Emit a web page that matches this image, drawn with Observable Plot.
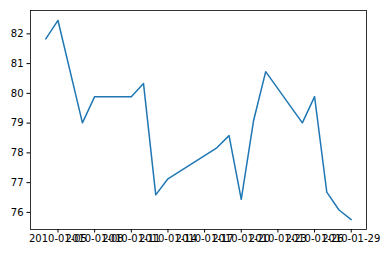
<!DOCTYPE html>
<html><head><meta charset="utf-8">
<script src="https://cdn.jsdelivr.net/npm/d3@7"></script>
<script src="https://cdn.jsdelivr.net/npm/@observablehq/plot@0.6"></script>
<style>html,body{margin:0;padding:0;background:#fff} svg{display:block}</style>
</head><body><div id="chart"></div>
<script>
const dates = ["2010-01-04","2010-01-05","2010-01-07","2010-01-08","2010-01-11","2010-01-12","2010-01-13","2010-01-14","2010-01-18","2010-01-19","2010-01-20","2010-01-21","2010-01-22","2010-01-25","2010-01-26","2010-01-27","2010-01-28","2010-01-29"];
const values = [81.83,82.45,79.01,79.89,79.89,80.33,76.59,77.13,78.17,78.58,76.44,79.07,80.73,79.01,79.89,76.68,76.08,75.76];
const xTickLabels = ["2010-01-05","2010-01-08","2010-01-11","2010-01-14","2010-01-17","2010-01-20","2010-01-23","2010-01-26","2010-01-29"];
const yTicks = [76,77,78,79,80,81,82];

const parse = s => new Date(s + "T00:00:00Z");
const data = dates.map((d, i) => ({date: parse(d), value: values[i]}));

// matplotlib-like 5% margins
const [dMin, dMax] = d3.extent(data, d => +d.date);
const dPad = (dMax - dMin) * 0.05;
const [vMin, vMax] = d3.extent(values);
const vPad = (vMax - vMin) * 0.05;

const chart = Plot.plot({
  width: 386,
  height: 261,
  marginLeft: 30,
  marginRight: 20,
  marginTop: 10,
  marginBottom: 32,
  style: {fontFamily: "DejaVu Sans", fontSize: "10px", color: "black", background: "white"},
  x: {type: "utc", domain: [new Date(dMin - dPad), new Date(dMax + dPad)], ticks: xTickLabels.map(parse), tickFormat: d3.utcFormat("%Y-%m-%d"), tickSize: 3.5, tickPadding: 2, label: null},
  y: {domain: [vMin - vPad, vMax + vPad], ticks: yTicks, tickFormat: d3.format("d"), tickSize: 3.5, tickPadding: 3.5, label: null},
  marks: [
    Plot.line(data, {x: "date", y: "value", stroke: "#1f77b4", strokeWidth: 1.5}),
    Plot.frame({stroke: "black", strokeWidth: 0.8})
  ]
});
document.getElementById("chart").appendChild(chart);
</script>
</body></html>
